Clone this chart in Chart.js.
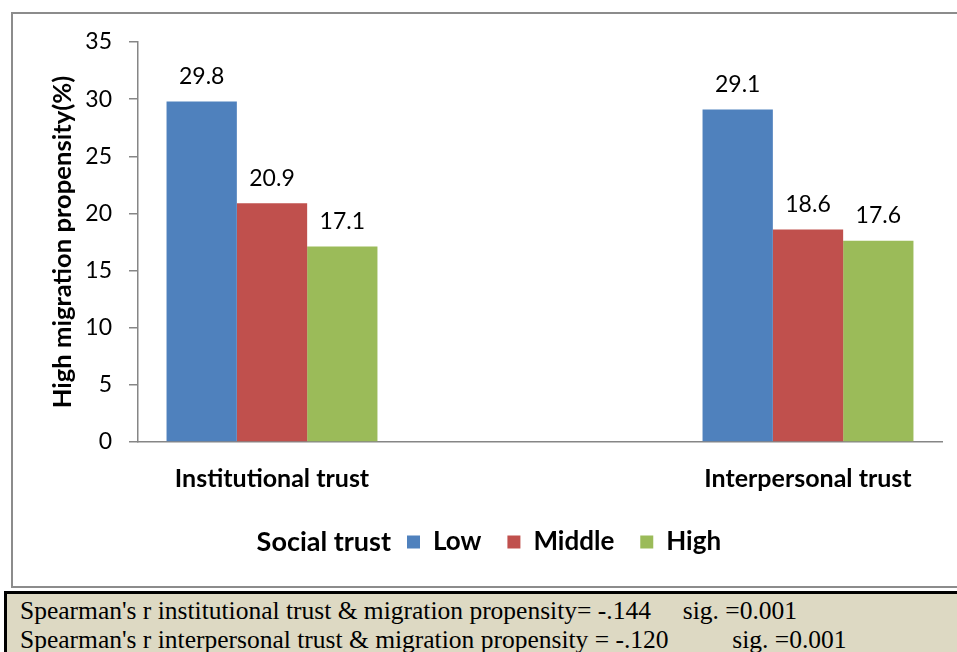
<!DOCTYPE html>
<html>
<head>
<meta charset="utf-8">
<script src="https://cdn.jsdelivr.net/npm/chart.js@4.4.1/dist/chart.umd.min.js"></script>
<style>
  html, body { margin: 0; padding: 0; background: #fff; overflow: hidden; }
  body { width: 957px; height: 652px; position: relative; }
  #frame { position: absolute; left: 11px; top: 12px; width: 960px; height: 576px;
           border: 2px solid #8c8c8c; box-sizing: border-box; }
  #wrap { position: absolute; left: 0; top: 0; width: 957px; height: 590px; }
  #note { position: absolute; left: 4px; top: 591px; width: 970px; height: 80px;
          background: #ddd9c3; border-top: 3px solid #000; border-left: 3px solid #000;
          box-sizing: border-box; padding: 2px 0 0 13px; white-space: pre;
          font-family: "Liberation Serif", "Times New Roman", serif; font-size: 25.5px;
          line-height: 29px; color: #000; }
</style>
</head>
<body>
<div id="frame"></div>
<div id="wrap"><canvas id="myChart"></canvas></div>
<div id="note">Spearman's r institutional trust &amp; migration propensity= -.144     sig. =0.001
Spearman's r interpersonal trust &amp; migration propensity = -.120          sig. =0.001</div>
<script>
const categories = ['Institutional trust', 'Interpersonal trust'];
const seriesNames = ['Low', 'Middle', 'High'];
const lowValues = [29.8, 29.1];
const middleValues = [20.9, 18.6];
const highValues = [17.1, 17.6];
const yTicks = [0, 5, 10, 15, 20, 25, 30, 35];

const colors = ['#4f81bd', '#c0504d', '#9bbb59'];
const axisColor = '#868686';
const font = 'Lato';

// Excel leaves an empty slot between the two groups
function spaced(arr) {
    return [arr[0], null, arr[1]];
}

const labels = [categories[0], '', categories[1]];
const datasets = [lowValues, middleValues, highValues].map((vals, i) => ({
    label: seriesNames[i],
    data: spaced(vals),
    backgroundColor: colors[i],
    borderWidth: 0,
    categoryPercentage: 0.787,
    barPercentage: 1.0
}));

const valueLabels = {
    id: 'valueLabels',
    afterDatasetsDraw(chart) {
        const ctx = chart.ctx;
        ctx.save();
        ctx.font = '23px ' + font;
        ctx.fillStyle = '#000';
        ctx.textAlign = 'center';
        ctx.textBaseline = 'middle';
        chart.data.datasets.forEach((ds, i) => {
            chart.getDatasetMeta(i).data.forEach((bar, j) => {
                const v = ds.data[j];
                if (v == null) return;
                ctx.fillText(v.toFixed(1), bar.x, bar.y - 25);
            });
        });
        ctx.restore();
    }
};

// put the legend items where Excel had them and write "Social trust" in front
const legendTitle = {
    id: 'legendTitle',
    afterLayout(chart) {
        const lg = chart.legend;
        lg.left = 407 - lg.options.labels.padding;
    },
    afterDraw(chart) {
        const box = chart.legend.legendHitBoxes[0];
        if (!box) return;
        const ctx = chart.ctx;
        ctx.save();
        ctx.font = 'bold 27px ' + font;
        ctx.fillStyle = '#000';
        ctx.textAlign = 'right';
        ctx.textBaseline = 'middle';
        ctx.fillText('Social trust', box.left - 16, box.top + box.height / 2);
        ctx.restore();
    }
};

const config = {
    type: 'bar',
    data: { labels: labels, datasets: datasets },
    options: {
        responsive: true,
        maintainAspectRatio: false,
        animation: false,
        layout: { padding: { left: 14, right: 15, top: 42, bottom: 25 } },
        plugins: {
            legend: {
                position: 'bottom',
                align: 'start',
                labels: {
                    boxWidth: 13,
                    boxHeight: 13,
                    padding: 26,
                    color: '#000',
                    font: { family: font, size: 26, weight: 'bold' }
                }
            },
            tooltip: { enabled: false }
        },
        scales: {
            x: {
                grid: { display: false },
                border: { display: true, color: axisColor, width: 1.5 },
                ticks: {
                    color: '#000',
                    padding: 14,
                    font: { family: font, size: 25, weight: 'bold' }
                },
                afterFit(scale) { scale.height = 61; }
            },
            y: {
                min: 0,
                max: 35,
                afterBuildTicks(scale) { scale.ticks = yTicks.map(v => ({ value: v })); },
                grid: { drawOnChartArea: false, drawTicks: true, tickLength: 9, color: axisColor, lineWidth: 1.5 },
                border: { display: true, color: axisColor, width: 1.5 },
                ticks: {
                    color: '#000',
                    padding: 17,
                    font: { family: font, size: 23 }
                },
                title: {
                    display: true,
                    text: 'High migration propensity(%)',
                    color: '#000',
                    padding: { top: 33, bottom: 0 },
                    font: { family: font, size: 25.6, weight: 'bold', lineHeight: 1.2 }
                },
                afterFit(scale) { scale.width = 124; }
            }
        }
    },
    plugins: [valueLabels, legendTitle]
};

function makeChart() {
    const myChart = new Chart(
        document.getElementById('myChart'),
        config
    );
}
makeChart();
</script>
</body>
</html>
